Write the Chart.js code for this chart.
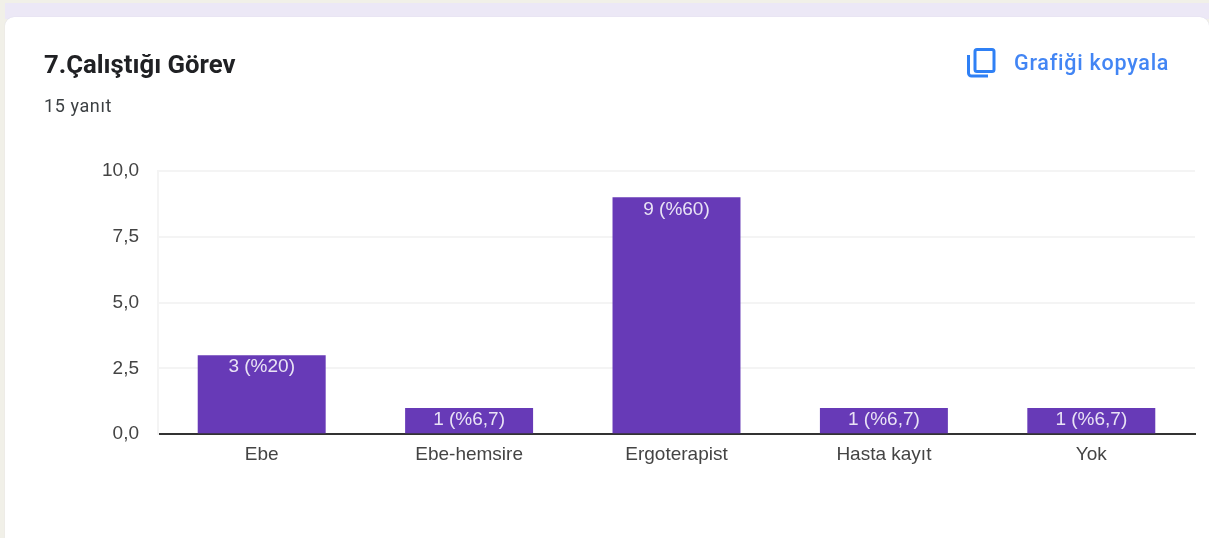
<!DOCTYPE html>
<html lang="tr"><head><meta charset="utf-8">
<script src="https://cdn.jsdelivr.net/npm/chart.js@4/dist/chart.umd.min.js"></script>
<style>
html,body{margin:0;padding:0;width:1209px;height:538px;overflow:hidden;background:#f1f0e8}
#top{position:absolute;left:5px;top:3px;width:1204px;height:16px;background:#ece8f6}
#card{position:absolute;left:5px;top:17px;width:1204px;height:521px;background:#fff;border-radius:9px 9px 0 0;box-shadow:0 0 1px #cfcde0}
canvas{position:absolute;left:0;top:0}
.t{position:absolute;white-space:nowrap}
#title{left:44px;top:50px;font:700 25.7px/28px Roboto,sans-serif;color:#202124}
#sub{left:44px;top:96px;font:400 18px/20px Roboto,sans-serif;letter-spacing:.6px;color:#3c4043}
#copy{left:1014px;top:50px;font:500 21.5px/26px Roboto,sans-serif;letter-spacing:.75px;color:#4285f4}
svg{position:absolute;left:966px;top:47px}
</style></head><body>
<div id="top"></div><div id="card"></div>
<canvas id="c" width="1209" height="538"></canvas>
<div class="t" id="title">7.Çalıştığı Görev</div>
<div class="t" id="sub">15 yanıt</div>
<svg width="30" height="32" viewBox="0 0 30 32" fill="none" stroke="#2f80f5" stroke-width="3"><rect x="9" y="2.5" width="19" height="22" rx="2"/><path d="M2.5 8v18a3 3 0 0 0 3 3H22"/></svg>
<div class="t" id="copy">Grafiği kopyala</div>
<script>
const categories = ["Ebe","Ebe-hemsire","Ergoterapist","Hasta kayıt","Yok"];
const counts = [3,1,9,1,1];
const barLabels = ["3 (%20)","1 (%6,7)","9 (%60)","1 (%6,7)","1 (%6,7)"];
const yTicks = [0,2.5,5,7.5,10];
const fmt = v => v.toFixed(1).replace('.',',');
const labelPlugin = {
  id:'barLabels',
  afterDatasetsDraw(chart){
    const {ctx} = chart;
    ctx.save();
    ctx.font = '19px "Liberation Sans", Arial, sans-serif';
    ctx.fillStyle = '#e9e3f5';
    ctx.textAlign = 'center';
    ctx.textBaseline = 'middle';
    chart.getDatasetMeta(0).data.forEach((bar,i)=>{
      ctx.fillText(barLabels[i], bar.x, bar.y + 12);
    });
    ctx.restore();
  }
};
new Chart(document.getElementById('c'),{
  type:'bar',
  data:{labels:categories,datasets:[{data:counts,backgroundColor:'#673ab7',borderWidth:0,categoryPercentage:1,barPercentage:0.617}]},
  plugins:[labelPlugin],
  options:{
    responsive:false,animation:false,
    layout:{padding:{left:100,right:14,top:171,bottom:63}},
    plugins:{legend:{display:false},tooltip:{enabled:false}},
    scales:{
      x:{
        grid:{display:false,drawTicks:false},
        border:{color:'#333',width:2},
        ticks:{color:'#444',font:{family:'"Liberation Sans",Arial,sans-serif',size:19},padding:9,maxRotation:0}
      },
      y:{
        min:0,max:10,
        afterBuildTicks(a){a.ticks=yTicks.map(v=>({value:v}));},
        afterFit(a){a.width=58;},
        grid:{color:'#f4f4f4',lineWidth:2,drawTicks:false},
        border:{display:true,color:'#f4f4f4',width:2},
        ticks:{color:'#444',font:{family:'"Liberation Sans",Arial,sans-serif',size:19},padding:19,callback:v=>fmt(v)}
      }
    }
  }
});
</script>
</body></html>
